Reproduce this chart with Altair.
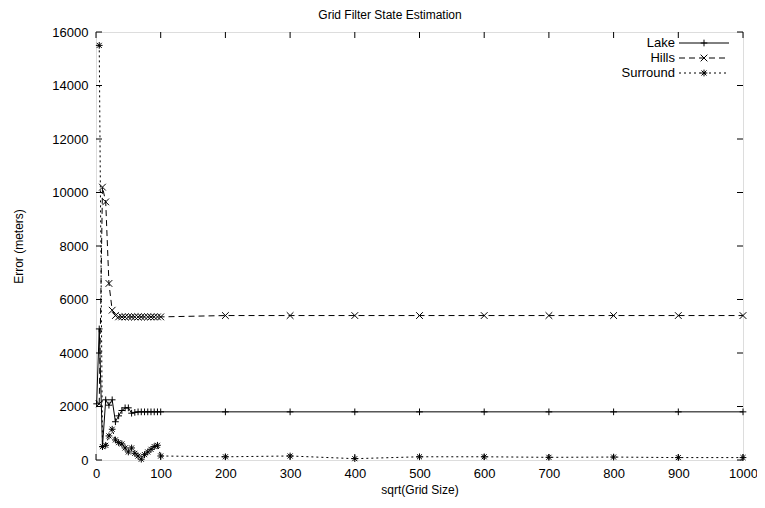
import altair as alt
import pandas as pd

# ---- data ----
grid_x = [5, 10, 15, 20, 25, 30, 35, 40, 45, 50, 55, 60, 65, 70, 75, 80, 85, 90, 95, 100,
          200, 300, 400, 500, 600, 700, 800, 900, 1000]
lake_x = [1] + grid_x
lake_y = [2100, 4900, 500, 2250, 2050, 2250, 1430, 1650, 1850, 1950, 1950, 1750, 1780,
          1800, 1800, 1800, 1800, 1800, 1800, 1800, 1800,
          1800, 1800, 1800, 1800, 1800, 1800, 1800, 1800, 1800]
hills_y = [2100, 10200, 9650, 6600, 5600, 5400, 5350, 5350, 5350, 5350, 5350, 5350, 5350,
           5350, 5350, 5350, 5350, 5350, 5350, 5350,
           5400, 5400, 5400, 5400, 5400, 5400, 5400, 5400, 5400]
surround_y = [15500, 500, 550, 900, 1150, 750, 650, 600, 450, 300, 450, 250, 150, 30, 200,
              300, 400, 500, 550, 150,
              120, 150, 50, 120, 120, 100, 110, 90, 90]
series_names = ["Lake", "Hills", "Surround"]
x_ticks = [0, 100, 200, 300, 400, 500, 600, 700, 800, 900, 1000]
y_ticks = [0, 2000, 4000, 6000, 8000, 10000, 12000, 14000, 16000]
chart_title = "Grid Filter State Estimation"

# ---- build table ----
rows = []
for xs_, ys_, name in [(lake_x, lake_y, "Lake"), (grid_x, hills_y, "Hills"), (grid_x, surround_y, "Surround")]:
    for a, b in zip(xs_, ys_):
        rows.append({"x": a, "y": b, "series": name})
df = pd.DataFrame(rows)

W, H = 647, 428
FONT = "Liberation Sans"
TICKFS = 13

PLUS = "M-1,0L1,0M0,-1L0,1"
CROSS = "M-1,-1L1,1M-1,1L1,-1"
STAR = "M-1,0L1,0M0,-1L0,1M-0.75,-0.75L0.75,0.75M-0.75,0.75L0.75,-0.75"

styles = {
    "Lake": {"shape": PLUS, "dash": None},
    "Hills": {"shape": CROSS, "dash": [6, 4]},
    "Surround": {"shape": STAR, "dash": [2, 3]},
}

xscale = alt.Scale(domain=[0, 1000], nice=False, zero=False)
yscale = alt.Scale(domain=[0, 16000], nice=False)

xaxis = alt.Axis(values=x_ticks, format="d", title="sqrt(Grid Size)", domain=False, ticks=False, grid=False,
                 labelPadding=7, labelFontSize=TICKFS, labelFont=FONT, labelColor="black",
                 titleFontSize=12, titleFont=FONT, titleFontWeight="normal", titleColor="black",
                 titleY=29, titleBaseline="middle", labelFlush=False)
yaxis = alt.Axis(values=y_ticks, format="d", title="Error (meters)", domain=False, ticks=False, grid=False,
                 labelPadding=8, labelFontSize=TICKFS, labelFont=FONT, labelColor="black",
                 titleFontSize=12, titleFont=FONT, titleFontWeight="normal", titleColor="black",
                 titleX=-78, titleY=H / 2, titleBaseline="middle", titleAlign="center",
                 labelFlush=False)

X = alt.X("x:Q", scale=xscale, axis=xaxis)
Y = alt.Y("y:Q", scale=yscale, axis=yaxis)

layers = []
for name in series_names:
    st = styles[name]
    sub = df[df.series == name]
    lkw = {"color": "black", "strokeWidth": 1}
    if st["dash"]:
        lkw["strokeDash"] = st["dash"]
    layers.append(alt.Chart(sub).mark_line(**lkw).encode(x=X, y=Y, order="x:Q"))
    layers.append(alt.Chart(sub).mark_point(shape=st["shape"], filled=False, color="black",
                                            size=45, strokeWidth=1, opacity=1).encode(x=X, y=Y))

# inward mirrored ticks
ytd = pd.DataFrame({"v": y_ticks})
xtd = pd.DataFrame({"v": x_ticks})
YT = alt.Y("v:Q", scale=yscale, axis=yaxis)
XT = alt.X("v:Q", scale=xscale, axis=xaxis)
layers.append(alt.Chart(ytd).mark_rule(color="black", strokeWidth=1).encode(y=YT, x=alt.value(0), x2=alt.value(6)))
layers.append(alt.Chart(ytd).mark_rule(color="black", strokeWidth=1).encode(y=YT, x=alt.value(W - 6), x2=alt.value(W)))
layers.append(alt.Chart(xtd).mark_rule(color="black", strokeWidth=1).encode(x=XT, y=alt.value(H - 6), y2=alt.value(H)))
layers.append(alt.Chart(xtd).mark_rule(color="black", strokeWidth=1).encode(x=XT, y=alt.value(0), y2=alt.value(6)))

# chart title as text above the frame
layers.append(alt.Chart(pd.DataFrame({"t": [chart_title]})).mark_text(
    align="center", baseline="alphabetic", fontSize=12, font=FONT, color="black").encode(
    x=alt.value(294), y=alt.value(-13), text="t:N"))

# key (top right, inside)
key_text_x = 579
key_l1, key_l2 = 583, 633
key_rows = [11, 26, 41]
for name, ry in zip(series_names, key_rows):
    st = styles[name]
    kd = pd.DataFrame({"t": [name]})
    layers.append(alt.Chart(kd).mark_text(align="right", baseline="middle", fontSize=13, font=FONT,
                                          color="black").encode(x=alt.value(key_text_x), y=alt.value(ry), text="t:N"))
    rkw = {"color": "black", "strokeWidth": 1}
    if st["dash"]:
        rkw["strokeDash"] = st["dash"]
    layers.append(alt.Chart(kd).mark_rule(**rkw).encode(x=alt.value(key_l1), x2=alt.value(key_l2), y=alt.value(ry)))
    layers.append(alt.Chart(kd).mark_point(shape=st["shape"], filled=False, color="black", size=45,
                                           strokeWidth=1, opacity=1).encode(x=alt.value((key_l1 + key_l2) / 2), y=alt.value(ry)))

chart = alt.layer(*layers).properties(
    width=W, height=H,
    autosize=alt.AutoSizeParams(type="none"),
    padding={"left": 88, "top": 24, "right": 14, "bottom": 40},
).configure_view(stroke="black", strokeWidth=1).configure(background="white")

chart.save("out.html", embed_options={"renderer": "svg", "actions": False})
